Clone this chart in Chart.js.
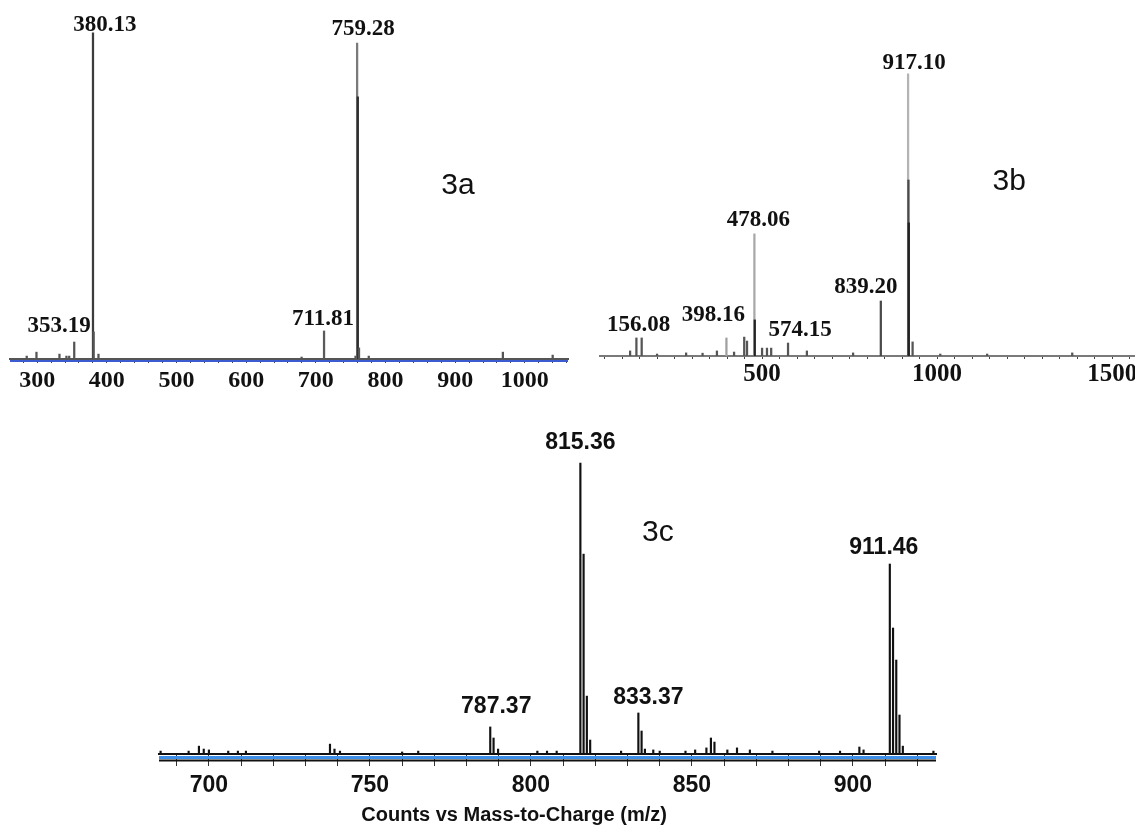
<!DOCTYPE html>
<html>
<head>
<meta charset="utf-8">
<title>ESI-MS spectra 3a, 3b, 3c</title>
<script src="https://cdn.jsdelivr.net/npm/chart.js@4.4.1/dist/chart.umd.min.js"></script>
<style>
  html, body { margin: 0; padding: 0; background: #fff; width: 1135px; height: 831px; overflow: hidden; }
  canvas { position: absolute; }
  #c3a { left: 0; top: 0; }
  #c3b { left: 590px; top: 0; }
  #c3c { left: 140px; top: 420px; }
</style>
</head>
<body>
<canvas id="c3a" width="575" height="400"></canvas>
<canvas id="c3b" width="620" height="400"></canvas>
<canvas id="c3c" width="820" height="411"></canvas>
<script>
// ---- data (m/z, relative intensity in % of base peak) ----

// spectrum 3a
const mz3a = [285, 299, 332, 342, 346, 353.19, 380.13, 381.1, 388, 679.6, 711.81, 757, 759.28, 760.28, 762, 776, 968.5, 1040];
const int3a = [0.9, 2.1, 1.5, 0.9, 0.9, 5.2, 100, 8.3, 1.5, 0.6, 8.6, 0.9, 96.9, 80.4, 3.4, 0.9, 2.1, 1.2];
const labelled3a = [380.13, 759.28, 353.19, 711.81];
const ticks3a = [300, 400, 500, 600, 700, 800, 900, 1000];

// spectrum 3b
const mz3b = [123, 141, 156.08, 200, 283, 330, 371, 398.16, 420, 449, 457, 478.06, 479.06, 500, 514, 526,
              574.15, 628, 760, 839.2, 917.1, 918.1, 919.1, 930, 1009, 1143, 1386];
const int3b = [1.8, 6.4, 6.4, 0.7, 1.1, 1.0, 1.8, 6.4, 1.4, 6.7, 5.3, 43.3, 12.8, 2.8, 2.8, 2.8,
               4.6, 1.8, 1.1, 19.5, 100, 62.4, 47.2, 5.0, 0.7, 0.7, 1.1];
const labelled3b = [917.1, 478.06, 839.2, 398.16, 156.08, 574.15];
const ticks3b = [500, 1000, 1500];

// spectrum 3c
const mz3c = [685, 693.7, 696.9, 698.4, 700, 706, 709, 711.5, 737.6, 739, 740.7, 760, 765, 787.37, 788.4, 789.8,
              802, 805, 808, 815.36, 816.36, 817.37, 818.4, 828, 833.37, 834.37, 835.4, 838, 840, 848, 851,
              854.5, 855.9, 857, 861, 864, 868, 875, 889.5, 896, 902, 903.3, 911.46, 912.46, 913.46, 914.46, 915.5, 925];
const int3c = [1.0, 1.0, 2.7, 1.7, 1.4, 1.0, 1.0, 1.0, 3.4, 1.7, 1.0, 0.7, 1.0, 9.3, 5.5, 1.7,
               1.0, 1.0, 1.0, 100, 68.7, 19.9, 4.8, 1.0, 14.1, 7.9, 1.7, 1.4, 1.0, 1.0, 1.4,
               2.1, 5.5, 4.1, 1.4, 2.1, 1.4, 1.0, 1.0, 1.0, 2.4, 1.4, 65.3, 43.3, 32.3, 13.4, 2.7, 1.0];
const labelled3c = [815.36, 911.46, 787.37, 833.37];
const ticks3c = [700, 750, 800, 850, 900];

// ---- styling (kept apart from the values) ----
const greyOf3a = { 380.13: '#3c3c3c', 759.28: '#7a7a7a', 760.28: '#2e2e2e', 711.81: '#5a5a5a' };
const greyOf3b = { 917.1: '#b4b4b4', 918.1: '#4a4a4a', 919.1: '#222', 478.06: '#a8a8a8', 479.06: '#222', 398.16: '#a0a0a0', 839.2: '#4a4a4a' };
const serif = "'Liberation Serif', 'Times New Roman', serif";
const sans = "'Liberation Sans', Arial, sans-serif";

// draws the peak labels, the panel name and any extra lines under the axis
function decorations(mz, intensity, labelled, nudges, cfg) {
  return {
    id: 'decorations',
    afterDraw(chart) {
      const { ctx, chartArea } = chart;
      const x = chart.scales.x, y = chart.scales.y;
      ctx.save();
      // extra baseline strokes under the axis border
      (cfg.underlines || []).forEach(u => {
        ctx.strokeStyle = u.color;
        ctx.lineWidth = u.width;
        ctx.beginPath();
        ctx.moveTo(chartArea.left, x.top + u.offset);
        ctx.lineTo(chartArea.right, x.top + u.offset);
        ctx.stroke();
      });
      ctx.fillStyle = '#111';
      ctx.textAlign = 'center';
      ctx.textBaseline = 'middle';
      ctx.font = cfg.labelFont;
      labelled.forEach((m, i) => {
        const h = intensity[mz.indexOf(m)];
        ctx.fillText(m.toFixed(2), x.getPixelForValue(m) + nudges[i][0], y.getPixelForValue(h) + nudges[i][1]);
      });
      ctx.font = cfg.nameFont;
      ctx.fillText(cfg.name, x.getPixelForValue(cfg.nameAt[0]), y.getPixelForValue(cfg.nameAt[1]));
      if (cfg.title) {
        ctx.font = cfg.titleFont;
        ctx.fillText(cfg.title, chartArea.left + chartArea.width * cfg.titleAt[0], chartArea.bottom + cfg.titleAt[1]);
      }
      ctx.restore();
    }
  };
}

function drawSpectrum(canvasId, mz, intensity, colours, labelled, tickLabels, setup, deco) {
  const points = mz.map((m, i) => ({ x: m, y: intensity[i] }));
  return new Chart(document.getElementById(canvasId), {
    type: 'bar',
    data: {
      datasets: [{
        data: points,
        backgroundColor: mz.map(m => colours[m] || setup.stickColour),
        borderWidth: 0,
        barThickness: setup.stick
      }]
    },
    options: {
      responsive: false,
      animation: false,
      devicePixelRatio: 1,
      layout: { padding: setup.padding },
      plugins: { legend: { display: false }, tooltip: { enabled: false } },
      scales: {
        x: {
          type: 'linear',
          min: setup.xMin,
          max: setup.xMax,
          offset: false,
          afterFit: (s) => { s.height = setup.axisHeight; },
          grid: { drawOnChartArea: false, offset: false, tickLength: setup.tickLength, tickColor: setup.tickColour, tickWidth: setup.tickWidth },
          border: { display: true, color: setup.axisColour, width: setup.axisWidth },
          ticks: {
            stepSize: setup.step,
            includeBounds: false,
            autoSkip: false,
            maxRotation: 0,
            minRotation: 0,
            padding: setup.labelPadding,
            color: '#111',
            font: setup.tickFont,
            callback: (v) => tickLabels.includes(v) ? String(v) : ''
          }
        },
        y: { display: false, min: 0, max: setup.yMax, stacked: false }
      }
    },
    plugins: [decorations(mz, intensity, labelled, deco.nudges, deco)]
  });
}

drawSpectrum('c3a', mz3a, int3a, greyOf3a, labelled3a, ticks3a, {
  xMin: 261, xMax: 1062, yMax: 110.1, step: 20,
  padding: { left: 10, right: 7, top: 0, bottom: 0 }, axisHeight: 41,
  stick: 1.6, stickColour: '#555',
  axisColour: '#555', axisWidth: 2, tickLength: 4, tickColour: '#444', tickWidth: 1,
  labelPadding: 3, tickFont: { family: serif, size: 24, weight: 'bold' }
}, {
  nudges: [[12, -8], [6, -14], [-15, -16], [-1, -12]],
  labelFont: 'bold 23px ' + serif,
  nameFont: '30px ' + sans, name: '3a', nameAt: [904, 53],
  underlines: [{ offset: 2, width: 2, color: '#3b5bd0' }]
});

drawSpectrum('c3b', mz3b, int3b, greyOf3b, labelled3b, ticks3b, {
  xMin: 37, xMax: 1751, yMax: 126.2, step: 50,
  padding: { left: 10, right: 10, top: 0, bottom: 0 }, axisHeight: 44,
  stick: 1.6, stickColour: '#555',
  axisColour: '#7a7a7a', axisWidth: 2, tickLength: 3, tickColour: '#444', tickWidth: 1,
  labelPadding: 1, tickFont: { family: serif, size: 25, weight: 'bold' }
}, {
  nudges: [[6, -11], [4, -14], [-15, -14], [-13, -23], [-3, -13], [12, -13]],
  labelFont: 'bold 23px ' + serif,
  nameFont: '30px ' + sans, name: '3b', nameAt: [1206, 61.7]
});

drawSpectrum('c3c', mz3c, int3c, {}, labelled3c, ticks3c, {
  xMin: 684.5, xMax: 925.8, yMax: 114.8, step: 10,
  padding: { left: 19, right: 24, top: 0, bottom: 0 }, axisHeight: 77,
  stick: 1.5, stickColour: '#111',
  axisColour: '#111', axisWidth: 2, tickLength: 12, tickColour: '#333', tickWidth: 1,
  labelPadding: 6, tickFont: { family: sans, size: 23, weight: 'bold' }
}, {
  nudges: [[0, -20], [-6, -16], [6, -20], [10, -15]],
  labelFont: 'bold 23px ' + sans,
  nameFont: '30px ' + sans, name: '3c', nameAt: [839.4, 75.9],
  underlines: [{ offset: 3.5, width: 3, color: '#3d8ee6' }, { offset: 6.5, width: 2, color: '#111' }],
  title: 'Counts vs Mass-to-Charge (m/z)', titleFont: 'bold 20px ' + sans, titleAt: [0.457, 61]
});
</script>
</body>
</html>
